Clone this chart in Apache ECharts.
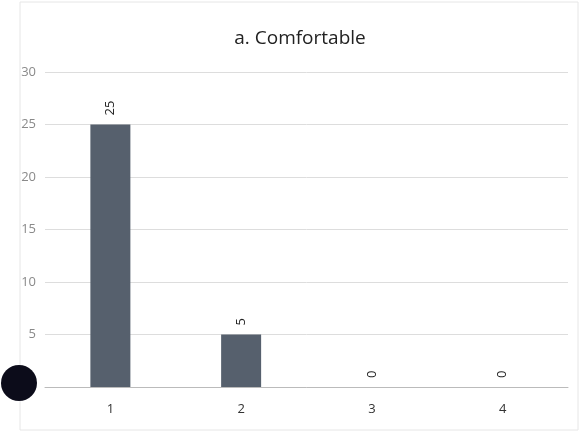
<!DOCTYPE html>
<html>
<head>
<meta charset="utf-8">
<script src="https://cdn.jsdelivr.net/npm/echarts@6/dist/echarts.min.js"></script>
<style>
html,body{margin:0;padding:0;background:#fff;}
#chart{width:580px;height:438px;}
</style>
</head>
<body>
<div id="chart"></div>
<script>
const titleText = 'a. Comfortable';
const categories = ['1', '2', '3', '4'];
const values = [25, 5, 0, 0];
const yTicks = [0, 5, 10, 15, 20, 25, 30];

const chart = echarts.init(document.getElementById('chart'));
chart.setOption({
  backgroundColor: '#ffffff',
  animation: false,
  title: {
    text: titleText,
    left: 295, top: 24, textAlign: 'center',
    textStyle: {fontFamily: 'Open Sans', fontSize: 19, fontWeight: 'normal', color: '#222'}
  },
  grid: {left: 45, right: 12, top: 72, bottom: 51},
  xAxis: {
    type: 'category', data: categories,
    axisLine: {lineStyle: {color: '#bbbbbb'}},
    axisTick: {show: false},
    axisLabel: {color: '#333', fontSize: 13, fontFamily: 'Open Sans', margin: 16}
  },
  yAxis: {
    type: 'value', min: yTicks[0], max: yTicks[yTicks.length - 1], interval: 5,
    axisLine: {show: false}, axisTick: {show: false},
    axisLabel: {color: '#8a8a8a', fontSize: 13, fontFamily: 'Open Sans', margin: 9},
    splitLine: {lineStyle: {color: '#dddddd'}}
  },
  series: [{
    type: 'bar', data: values, barWidth: 40,
    itemStyle: {color: '#56606d'},
    label: {
      show: true, position: 'top', rotate: 90, align: 'left', verticalAlign: 'middle',
      distance: 9, color: '#222', fontSize: 13, fontFamily: 'Open Sans'
    }
  }],
  graphic: [
    {type: 'rect', shape: {x: 20, y: 2, width: 558, height: 428}, style: {fill: 'none', stroke: '#e6e6e6', lineWidth: 1}, z: -1},
    {type: 'circle', shape: {cx: 19, cy: 383, r: 18}, style: {fill: '#0c0c1a'}, z: 10}
  ]
});
</script>
</body>
</html>
